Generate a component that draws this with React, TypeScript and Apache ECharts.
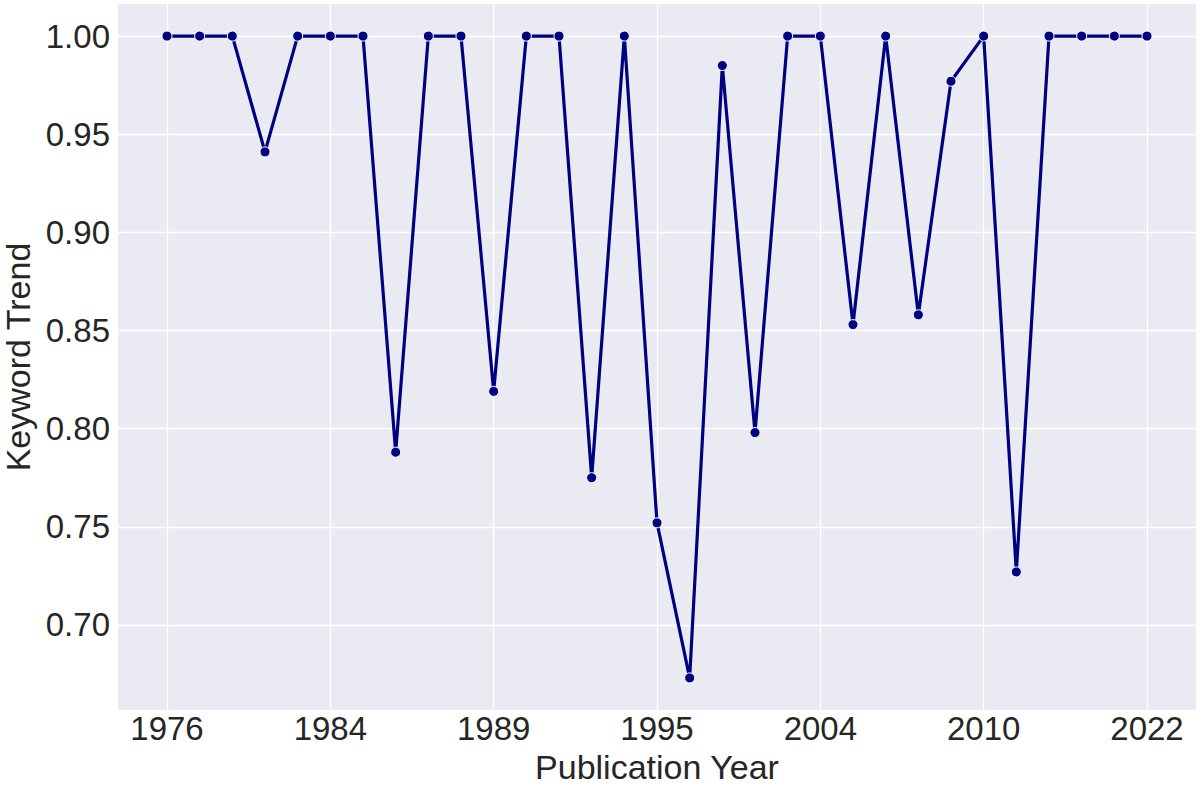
import {useEffect, useRef} from 'react';
import * as echarts from 'echarts';

// publication years, one per point (only every 5th is labelled)
const years = [
    '1976', '1978', '1980', '1981', '1983', '1984', '1985', '1986', '1987', '1988',
    '1989', '1990', '1991', '1993', '1994', '1995', '1996', '1998', '2000', '2002',
    '2004', '2005', '2006', '2007', '2009', '2010', '2011', '2013', '2016', '2019',
    '2022'
];
const trend = [
    1.0, 1.0, 1.0, 0.941, 1.0, 1.0, 1.0, 0.788, 1.0, 1.0,
    0.819, 1.0, 1.0, 0.775, 1.0, 0.752, 0.673, 0.985, 0.798, 1.0,
    1.0, 0.853, 1.0, 0.858, 0.977, 1.0, 0.727, 1.0, 1.0, 1.0,
    1.0
];
const xTickIdx = [0, 5, 10, 15, 20, 25, 30];
const yTicks = [0.7, 0.75, 0.8, 0.85, 0.9, 0.95, 1.0];

const TEXT = '#262626';
const FONT = '"Liberation Sans", Arial, sans-serif';

export default function App() {
    const ref = useRef<HTMLDivElement | null>(null);

    useEffect(() => {
        if (!ref.current) return;
        const chart = echarts.init(ref.current, null, {renderer: 'svg'});

        const lo = Math.min(...trend), hi = Math.max(...trend);
        const pad = (hi - lo) * 0.05;
        const n = trend.length;

        chart.setOption({
            animation: false,
            backgroundColor: '#ffffff',
            textStyle: {fontFamily: FONT},
            grid: {
                left: 118, right: 4, top: 4, bottom: 75,
                outerBoundsMode: 'none', containLabel: false,
                show: true, backgroundColor: '#eaeaf2', borderWidth: 0
            },
            xAxis: {
                type: 'value',
                min: -(n - 1) * 0.05,
                max: (n - 1) * 1.05,
                name: 'Publication Year',
                nameLocation: 'middle',
                nameGap: 38,
                nameTextStyle: {fontSize: 34, lineHeight: 32, color: TEXT, fontFamily: FONT},
                axisLine: {show: false},
                axisTick: {show: false, customValues: xTickIdx},
                axisLabel: {
                    customValues: xTickIdx,
                    fontSize: 33, lineHeight: 33, color: TEXT, fontFamily: FONT, margin: 2,
                    formatter: (v: number) => years[Math.round(v)] ?? ''
                },
                splitLine: {show: true, lineStyle: {color: '#ffffff', width: 1.3}}
            },
            yAxis: {
                type: 'value',
                min: lo - pad,
                max: hi + pad,
                name: 'Keyword Trend',
                nameLocation: 'middle',
                nameGap: 78,
                nameTextStyle: {fontSize: 34, lineHeight: 32, color: TEXT, fontFamily: FONT},
                axisLine: {show: false},
                axisTick: {show: false, customValues: yTicks},
                axisLabel: {
                    customValues: yTicks,
                    fontSize: 33, color: TEXT, fontFamily: FONT, margin: 8,
                    formatter: (v: number) => v.toFixed(2)
                },
                splitLine: {show: true, lineStyle: {color: '#ffffff', width: 1.3}}
            },
            series: [{
                type: 'line',
                data: trend.map((v, i) => [i, v]),
                lineStyle: {color: '#000080', width: 3.2},
                symbol: 'circle',
                symbolSize: 10,
                itemStyle: {color: '#000080', borderColor: '#ffffff', borderWidth: 1},
                z: 3
            }]
        });

        return () => chart.dispose();
    }, []);

    return <div ref={ref} style={{position: 'fixed', left: 0, top: 0, width: 1200, height: 785}}/>;
}
